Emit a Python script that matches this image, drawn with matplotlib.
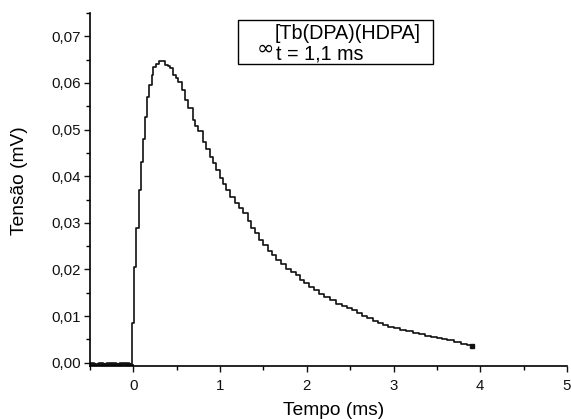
import matplotlib
matplotlib.use("Agg")
import matplotlib.pyplot as plt
from matplotlib.ticker import FixedLocator, FixedFormatter, MultipleLocator
from matplotlib.patches import Rectangle

# pre-trigger noise (baseline)
base_time_ms = [-0.50, -0.45, -0.40, -0.35, -0.30, -0.25, -0.20, -0.15, -0.10, -0.05, -0.011]
base_tension_mv = [-0.0003, -0.0004, -0.0002, -0.0004, -0.0003, -0.0002, -0.0004, -0.0003, -0.0002, -0.0004, -0.0003]

# rise and decay
time_ms = [-0.011, 0.011, 0.034, 0.061, 0.088, 0.111, 0.137, 0.157, 0.186, 0.214, 0.232,
           0.263, 0.297, 0.331, 0.366, 0.395, 0.423, 0.461, 0.490, 0.518, 0.557, 0.594,
           0.632, 0.682, 0.715, 0.746, 0.803, 0.840, 0.880, 0.920, 0.957, 0.994, 1.030,
           1.071, 1.120, 1.170, 1.220, 1.261, 1.318, 1.360, 1.400, 1.451, 1.500, 1.550,
           1.600, 1.642, 1.700, 1.760, 1.820, 1.871, 1.920, 1.970, 2.023, 2.080, 2.140,
           2.200, 2.270, 2.340, 2.400, 2.460, 2.520, 2.580, 2.640, 2.690, 2.760, 2.820,
           2.880, 2.940, 3.000, 3.070, 3.140, 3.220, 3.290, 3.360, 3.430, 3.500, 3.560,
           3.620, 3.700, 3.780, 3.850, 3.900]
tension_mv = [0.0085, 0.0205, 0.0290, 0.0370, 0.0431, 0.0480, 0.0528, 0.0570, 0.0596, 0.0617, 0.0635,
              0.0641, 0.0647, 0.0648, 0.0639, 0.0636, 0.0632, 0.0617, 0.0610, 0.0603, 0.0585, 0.0564,
              0.0547, 0.0521, 0.0508, 0.0496, 0.0474, 0.0458, 0.0442, 0.0428, 0.0414, 0.0396, 0.0383,
              0.0370, 0.0356, 0.0343, 0.0331, 0.0321, 0.0303, 0.0290, 0.0278, 0.0263, 0.0252, 0.0240,
              0.0230, 0.0220, 0.0211, 0.0202, 0.0195, 0.0188, 0.0178, 0.0170, 0.0163, 0.0155, 0.0148,
              0.0141, 0.0134, 0.0127, 0.0122, 0.0117, 0.0113, 0.0106, 0.0100, 0.0095, 0.0090, 0.0085,
              0.0081, 0.0077, 0.0074, 0.0070, 0.0067, 0.0063, 0.0061, 0.0058, 0.0056, 0.0053, 0.0051,
              0.0049, 0.0045, 0.0041, 0.0038, 0.0035]

x_ticks = [0, 1, 2, 3, 4, 5]
x_tick_labels = ["0", "1", "2", "3", "4", "5"]
y_ticks = [0.00, 0.01, 0.02, 0.03, 0.04, 0.05, 0.06, 0.07]
y_tick_labels = ["0,00", "0,01", "0,02", "0,03", "0,04", "0,05", "0,06", "0,07"]
legend_title = "[Tb(DPA)(HDPA]"
legend_line2 = "t = 1,1 ms"

plt.rcParams["font.family"] = ["Liberation Sans", "DejaVu Sans"]

W, H = 571, 419
fig = plt.figure(figsize=(W / 100, H / 100), dpi=100)
ax = fig.add_axes([90 / W, 1 - 366 / H, (567 - 90) / W, (366 - 13) / H])

ax.plot(base_time_ms, base_tension_mv, color="#111111", lw=2.6, drawstyle="steps-post",
        solid_capstyle="butt")
ax.plot([base_time_ms[-1]] + time_ms, [base_tension_mv[-1]] + tension_mv,
        color="#111111", lw=1.2, drawstyle="steps-post")
ax.plot(time_ms[-1:], tension_mv[-1:], "s", color="#111111", ms=3)

ax.set_xlim(-0.5, 5)
ax.set_ylim(-0.0007, 0.075)

ax.xaxis.set_major_locator(FixedLocator(x_ticks))
ax.xaxis.set_major_formatter(FixedFormatter(x_tick_labels))
ax.xaxis.set_minor_locator(MultipleLocator(0.5))
ax.yaxis.set_major_locator(FixedLocator(y_ticks))
ax.yaxis.set_major_formatter(FixedFormatter(y_tick_labels))
ax.yaxis.set_minor_locator(MultipleLocator(0.005))

for s in ["top", "right"]:
    ax.spines[s].set_visible(False)
for s in ["left", "bottom"]:
    ax.spines[s].set_linewidth(1.2)

ax.tick_params(which="major", direction="out", length=4, width=1.0, labelsize=10.8, colors="#111111")
ax.tick_params(which="minor", direction="out", length=2.8, width=1.0)
ax.tick_params(axis="y", pad=2.5)
ax.tick_params(axis="x", pad=5)

ax.set_xlabel("Tempo (ms)", fontsize=13.8, va="center")
ax.set_ylabel("Tensão (mV)", fontsize=13.8, va="center")
ax.xaxis.set_label_coords((334 - 90) / 477, (366 - 410) / 353)
ax.yaxis.set_label_coords((20 - 90) / 477, (366 - 181) / 353)

# legend box
bx0, bx1, by0, by1 = 238, 433, 20, 64
fig.patches.append(Rectangle((bx0 / W, 1 - by1 / H), (bx1 - bx0) / W, (by1 - by0) / H,
                             transform=fig.transFigure, fill=False, edgecolor="black", lw=1.0))
fig.text(265.5 / W, 1 - 46.5 / H, "∞", fontsize=15, ha="center", va="center_baseline",
         family=["DejaVu Sans"])
fig.text(275 / W, 1 - 39 / H, legend_title, fontsize=14.2, ha="left", va="baseline")
fig.text(276 / W, 1 - 60 / H, legend_line2, fontsize=14.2, ha="left", va="baseline")

fig.savefig("out.png", dpi=100)
